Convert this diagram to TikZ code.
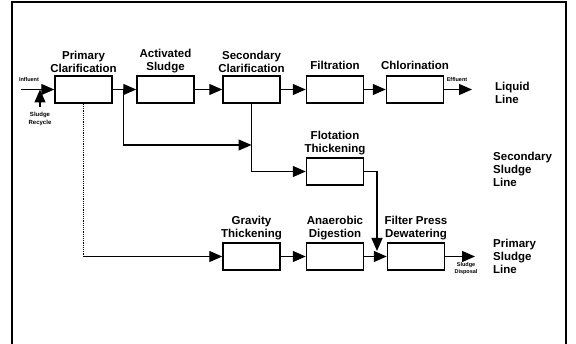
\documentclass[tikz,border=0pt]{standalone}
\usepackage{xcolor}
\usepackage{fontspec}
\setmainfont{Liberation Sans}
\usepackage{tikz}
\usetikzlibrary{arrows.meta,positioning}

\begin{document}
\begin{tikzpicture}[x=1pt, y=-1pt, node distance=83pt, >={Triangle[length=13pt,width=11pt]},
    block/.style={rectangle, draw, line width=1.5pt, minimum height=27pt,
                  minimum width=57pt, inner sep=0pt},
    lbl/.style={align=center, inner sep=1pt, font=\bfseries\fontsize{11.5}{13}\selectfont},
    side/.style={align=left, anchor=west, inner sep=0pt, font=\bfseries\fontsize{11.5}{13}\selectfont},
    tiny/.style={align=center, inner sep=0pt, font=\bfseries\fontsize{5.5}{7}\selectfont},
    arrow/.style={->, line width=1.3pt}]
    \useasboundingbox (0,0) rectangle (576,344);
    \draw[line width=1.6pt] (12,346) -- (12,2) -- (566,2) -- (566,346);
    % liquid line
    \node[block] (pc) at (83.5,89.5) {};
    \node[block, right of=pc, node distance=82pt] (as) {};
    \node[block, right of=as, node distance=86pt] (sc) {};
    \node[block, right of=sc, node distance=83.5pt] (fi) {};
    \node[block, right of=fi, node distance=80pt] (cl) {};
    \node[lbl, above=1pt of pc] (pctxt) {Primary\\Clarification};
    \node[lbl, above=1pt of as] (astxt) {Activated\\Sludge};
    \node[lbl, above=1pt of sc] (sctxt) {Secondary\\Clarification};
    \node[lbl, above=4pt of fi] (fitxt) {Filtration};
    \node[lbl, above=4pt of cl] (cltxt) {Chlorination};
    % sludge lines
    \node[block, below of=fi, node distance=82pt] (ft) {};
    \node[block, below of=sc, node distance=167pt] (gt) {};
    \node[block, below of=ft, node distance=85pt] (ad) {};
    \node[block, right of=ad, node distance=81pt] (fp) {};
    \node[lbl, above=1pt of ft] (fttxt) {Flotation\\Thickening};
    \node[lbl, above=1pt of gt] (gttxt) {Gravity\\Thickening};
    \node[lbl, above=1pt of ad] (adtxt) {Anaerobic\\Digestion};
    \node[lbl, above=1pt of fp] (fptxt) {Filter Press\\Dewatering};
    \node[side] (liq) at (495,93) {Liquid\\Line};
    \node[side] (ssl) at (493,169) {Secondary\\Sludge\\Line};
    \node[side] (psl) at (493,256) {Primary\\Sludge\\Line};
    % ends
    \coordinate (inf) at (21,89.5);
    \coordinate (rec) at (40,107);
    \coordinate (eff) at (472,89.5);
    \coordinate (disp) at (475,256.5);
    \coordinate (j1) at (123.5,89.5);
    \coordinate (j2) at (251.5,145);
    \coordinate (fpin) at (377,251);
    \coordinate (pcturn) at (pc.south |- gt.west);
    \node[tiny] (inftxt) at (29,80) {Influent};
    \node[tiny, font=\bfseries\fontsize{6}{8}\selectfont] (rectxt) at (40,119) {Sludge\\Recycle};
    \node[tiny] (efftxt) at (457,80) {Effluent};
    \node[tiny] (disptxt) at (466,269) {Sludge\\Disposal};
    \draw[arrow] (inf) -- (pc.west);
    \draw[arrow] (rec) -- (rec |- inf);
    \draw[arrow] (pc) -- (as);
    \draw[arrow] (as) -- (sc);
    \draw[arrow] (sc) -- (fi);
    \draw[arrow] (fi) -- (cl);
    \draw[arrow] (cl) -- (eff);
    \draw[arrow] (j1) |- (j2);
    \draw[arrow] (sc.south) |- (ft.west);
    \draw[arrow] (ft.east) -| (fpin);
    \draw[line width=1.2pt, densely dotted] (pc.south) -- (pcturn);
    \draw[arrow] (pcturn) -- (gt.west);
    \draw[arrow] (gt) -- (ad);
    \draw[arrow] (ad) -- (fp);
    \draw[arrow] (fp.east |- disp) -- (disp);
\end{tikzpicture}
\end{document}
